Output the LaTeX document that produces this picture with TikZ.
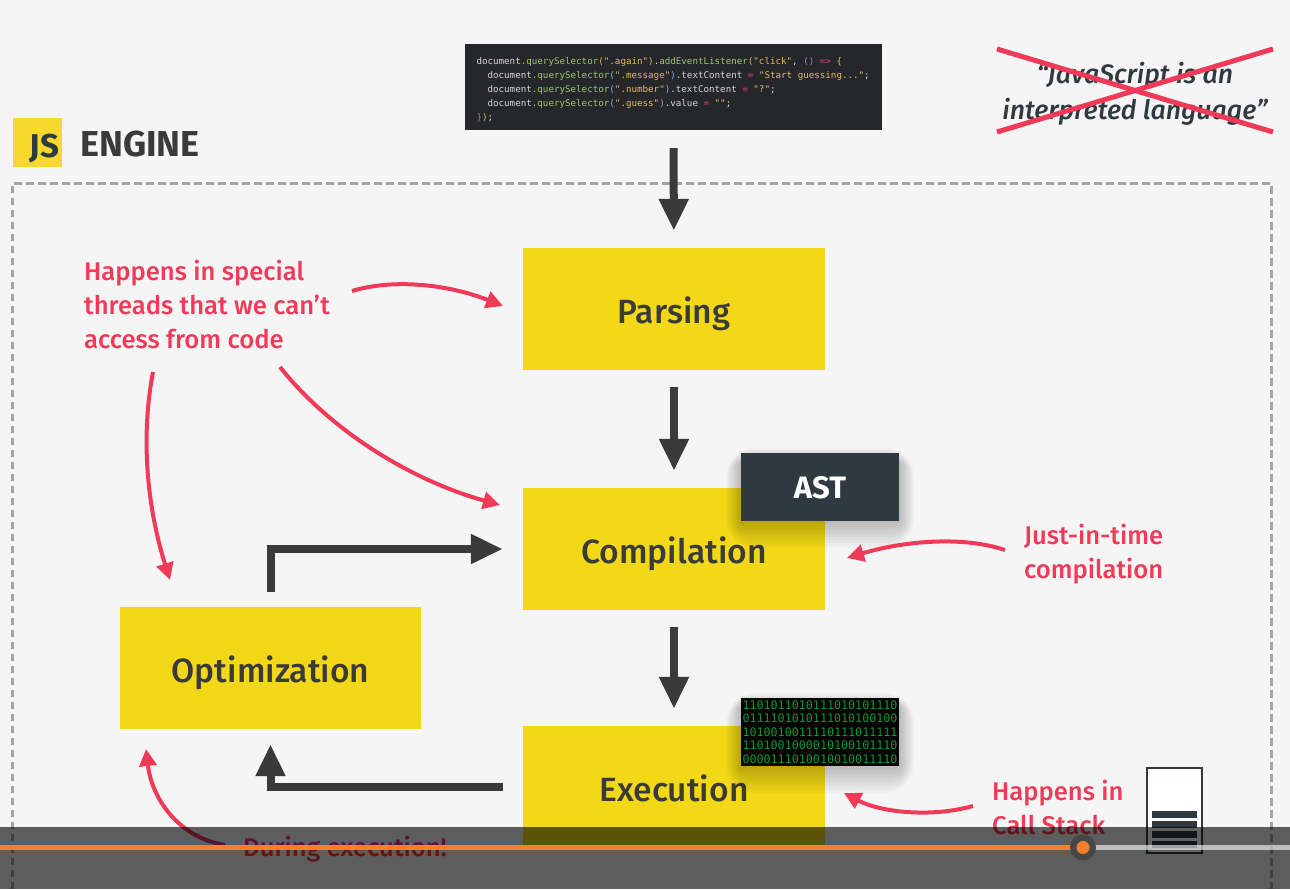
\documentclass[tikz,border=0pt]{standalone}
\usepackage{fontspec}
\usetikzlibrary{arrows.meta}
\setmainfont{Fira Sans}
\newfontfamily\mediumfont[UprightFont={* Medium},ItalicFont={* Medium Italic}]{Fira Sans}
\newfontfamily\codefont{DejaVu Sans Mono}
\definecolor{pagecol}{HTML}{F5F5F6}
\definecolor{stagecol}{HTML}{F2D816}
\definecolor{logocol}{HTML}{F7D92E}
\definecolor{inkcol}{HTML}{3A3A3A}
\definecolor{notecol}{HTML}{F03A58}
\definecolor{slatecol}{HTML}{2F3A40}
\definecolor{framecol}{HTML}{A3A3A3}
\definecolor{playcol}{HTML}{F57F2B}
\definecolor{codecol}{HTML}{26272B}
\definecolor{bitcol}{HTML}{0C9A33}
\definecolor{cgreen}{HTML}{9CC76E}
\definecolor{cyellow}{HTML}{E3B95B}
\definecolor{cblue}{HTML}{6FB6D8}
\definecolor{cred}{HTML}{E8406A}
\definecolor{cpurple}{HTML}{A678C8}
\definecolor{cwhite}{HTML}{D6D6D6}
\newcommand{\tokg}[1]{\textcolor{cgreen}{#1}}
\newcommand{\toky}[1]{\textcolor{cyellow}{#1}}
\newcommand{\tokb}[1]{\textcolor{cblue}{#1}}
\newcommand{\tokr}[1]{\textcolor{cred}{#1}}
\newcommand{\tokp}[1]{\textcolor{cpurple}{#1}}
\newcommand{\softshadow}[4]{\foreach \s in {30,27,...,3}
  \fill[black,opacity=.025,rounded corners=\s pt] (#1-\s/2,#2+10-\s/2) rectangle (#3+\s/2,#4+\s*0.9);}
\tikzset{
  stagebox/.style={fill=stagecol,text=inkcol,minimum width=302pt,minimum height=122pt,inner sep=0pt,
    text height=28pt,text depth=0pt,font=\mediumfont\fontsize{33.6}{33.6}\selectfont},
  flowarrow/.style={draw=inkcol,line width=8pt,-{Triangle[width=28pt,length=32pt]}},
  notearrow/.style={draw=notecol,line width=4pt,-{Triangle[width=17pt,length=17pt]}},
  notetext/.style={text=notecol,inner sep=0pt,align=left,font=\mediumfont\fontsize{25.6}{34}\selectfont},
  crossline/.style={draw=notecol,line width=5pt}
}
\begin{document}
\begin{tikzpicture}[x=1pt,y=-1pt]
\useasboundingbox (0,0) rectangle (1290,889);
\fill[pagecol] (0,0) rectangle (1290,889);
% engine frame and title
\draw[framecol,line width=3pt,dash pattern=on 7.5pt off 4.5pt] (12,889) -- (12,183) -- (1271,183) -- (1271,889);
\node[fill=logocol,minimum size=49pt,inner sep=0pt] (jslogo) at (37.5,142.5) {};
\node[anchor=south east,inner sep=0pt,text=slatecol,font=\bfseries\fontsize{33}{33}\selectfont] (jstext) at (59.5,163) {JS};
\node[anchor=west,inner sep=0pt,text=inkcol,font=\bfseries\fontsize{36}{36}\selectfont] (enginetitle) at (80,144) {ENGINE};
% source code
\node[fill=codecol,minimum width=417pt,minimum height=86pt,inner sep=0pt,text width=394pt,align=left,
  text=cwhite,font=\codefont\fontsize{9.2}{13.9}\selectfont] (code) at (673.5,87) {\spaceskip=5.54pt\relax
\rule{0pt}{13pt}document\tokg{.querySelector}\toky{(}\toky{".again"}\toky{)}.\tokg{addEventListener}\toky{(}\toky{"click"}, \tokp{()} \tokr{=>} \toky{\{}\\
~~document\tokg{.querySelector}\tokb{(}\toky{".message"}\tokb{)}.textContent \tokr{=} \toky{"Start guessing..."};\\
~~document\tokg{.querySelector}\tokb{(}\toky{".number"}\tokb{)}.textContent \tokr{=} \toky{"?"};\\
~~document\tokg{.querySelector}\tokb{(}\toky{".guess"}\tokb{)}.value \tokr{=} \toky{""};\\
\tokp{\}}\toky{)};};
% crossed out claim
\node[inner sep=0pt,align=center,text=slatecol,font=\mediumfont\fontsize{26.7}{36}\selectfont\itshape] (claim) at (1135,94) {\itshape “JavaScript is an\\\itshape interpreted language”};
\coordinate (crossa) at (997,49);
\coordinate (crossb) at (1273,132);
\coordinate (crossc) at (997,132);
\coordinate (crossd) at (1273,49);
\draw[crossline] (crossa) -- (crossb);
\draw[crossline] (crossc) -- (crossd);
% stages
\node[stagebox] (parsing) at (674,309) {Parsing};
\node[stagebox] (compilation) at (674,549) {Compilation};
\node[stagebox,minimum width=301pt] (optimization) at (270.5,668) {Optimization};
\node[stagebox] (execution) at (674,787) {Execution};
\softshadow{741}{453}{899}{521}
\node[fill=slatecol,text=white,minimum width=158pt,minimum height=68pt,inner sep=0pt,text height=22pt,text depth=0pt,font=\bfseries\fontsize{31}{31}\selectfont] (ast) at (820,487) {AST};
\softshadow{741}{698}{899}{766}
\node[fill=black,text=bitcol,minimum width=158pt,minimum height=68pt,inner sep=0pt,align=center,font=\codefont\fontsize{11.7}{13.5}\selectfont] (binary) at (820,732) {1101011010111010101110\\0111101010111010100100\\1010010011110111011111\\1101001000010100101110\\0000111010010010011110};
% flow
\draw[flowarrow,shorten <=18pt,shorten >=17pt] (code) -- (parsing);
\draw[flowarrow,shorten <=17pt,shorten >=17pt] (parsing) -- (compilation);
\draw[flowarrow,shorten <=17pt,shorten >=17pt] (compilation) -- (execution);
\draw[flowarrow,shorten <=20pt,shorten >=15pt] (execution.west) -| (optimization.south);
\draw[flowarrow,shorten <=15pt,shorten >=20pt] (optimization.north) |- (compilation.west);
% notes
\node[notetext,anchor=west] (threads) at (84,304) {Happens in special\\threads that we can’t\\access from code};
\node[notetext,anchor=west] (jit) at (1024,554) {Just-in-time\\compilation};
\node[notetext,anchor=west] (callstack) at (992,807) {Happens in\\Call Stack};
\node[notetext,anchor=west] (during) at (243,849) {During execution!};
\coordinate (threadsa) at (352,291);
\coordinate (threadsb) at (280,367);
\coordinate (threadsc) at (153,372);
\coordinate (parsingin) at (503,306);
\coordinate (compilein) at (500,505);
\coordinate (optin) at (170,580);
\coordinate (jitout) at (1005,550);
\coordinate (jitin) at (847,558);
\coordinate (stackout) at (973,806);
\coordinate (stackin) at (844,793);
\coordinate (duringout) at (225,845);
\coordinate (duringin) at (146,749);
\draw[notearrow] (threadsa) .. controls (395,278) and (450,285) .. (parsingin);
\draw[notearrow] (threadsb) .. controls (330,430) and (410,480) .. (compilein);
\draw[notearrow] (threadsc) .. controls (140,440) and (148,510) .. (optin);
\draw[notearrow] (jitout) .. controls (960,535) and (900,542) .. (jitin);
\draw[notearrow] (stackout) .. controls (930,818) and (880,812) .. (stackin);
\draw[notearrow] (duringout) .. controls (180,838) and (152,800) .. (duringin);
% stack icon
\node[draw=slatecol,fill=white,line width=1.5pt,minimum width=55pt,minimum height=85pt,inner sep=0pt] (stack) at (1174.5,810.5) {};
\foreach \y in {811,821,831,841}
  \fill[slatecol] (1152,\y) rectangle (1197,\y+7);
% video player bar
\fill[black,opacity=.62] (0,827) rectangle (1290,889);
\fill[playcol] (0,845) rectangle (1083,850);
\fill[white,opacity=.6] (1083,845) rectangle (1290,850);
\node[circle,fill=black!72,minimum size=26pt,inner sep=0pt] (knob) at (1083,847.5) {};
\node[circle,fill=playcol,minimum size=13pt,inner sep=0pt] (knobdot) at (knob) {};
\end{tikzpicture}
\end{document}
